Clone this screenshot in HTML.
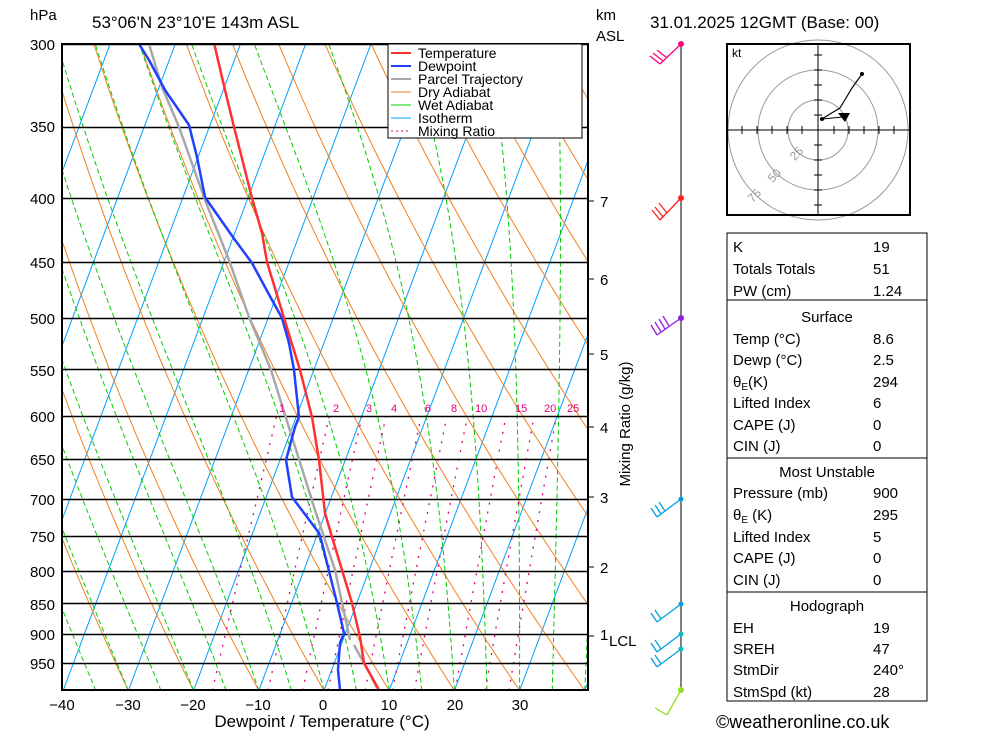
<!DOCTYPE html>
<html><head><meta charset="utf-8"><style>
body{margin:0;background:#fff;}
svg text{font-family:"Liberation Sans",sans-serif;}
</style></head><body>
<svg id="s" width="1000" height="733" viewBox="0 0 1000 733" xmlns="http://www.w3.org/2000/svg">
<defs><clipPath id="c"><rect x="62" y="44" width="526" height="646"/></clipPath></defs>
<rect width="1000" height="733" fill="#fff"/>
<g id="bg" clip-path="url(#c)"></g>
<g id="plines" stroke="#000" stroke-width="1.5"></g>
<g clip-path="url(#c)" fill="none" stroke-linejoin="round">
<polyline stroke="#a8a8a8" stroke-width="2.5" points="149,44 162,87 179,127 205,200 229,260 249,317 271,370 292,437 315,510 335,570 350,640"/>
<polyline stroke="#a8a8a8" stroke-width="2.5" points="354,645 369,672 377,688"/>
<polyline stroke="#2040ff" stroke-width="2.5" points="139,44 149,60 165,90 189,125 197,157 205,197 209,203 235,240 252,263 272,300 282,318 289,343 294,370 299,417 295,427 286,460 292,497 307,517 319,533 322,543 337,603 344,633 340,643 338,670 340,690"/>
<polyline stroke="#ff3030" stroke-width="2.5" points="214,43 225,90 234,127 252,198 262,233 267,262 284,318 300,370 312,417 319,460 325,513 332,537 342,570 352,603 360,637 364,663 379,690"/>
</g>
<rect x="62" y="44" width="526" height="646" fill="none" stroke="#000" stroke-width="2"/>
<!-- legend -->
<rect x="388" y="44" width="194" height="94" fill="#fff" stroke="#000" stroke-width="1"/>
<g stroke-width="2">
<line x1="391" y1="53" x2="411" y2="53" stroke="#ff3030"/>
<line x1="391" y1="66" x2="411" y2="66" stroke="#2040ff"/>
<line x1="391" y1="79" x2="411" y2="79" stroke="#a8a8a8"/>
<line x1="391" y1="92" x2="411" y2="92" stroke="#f08020" stroke-width="1"/>
<line x1="391" y1="105" x2="411" y2="105" stroke="#00cc00" stroke-width="1"/>
<line x1="391" y1="118" x2="411" y2="118" stroke="#00a0ff" stroke-width="1"/>
<line x1="391" y1="131" x2="411" y2="131" stroke="#e0007a" stroke-width="1" stroke-dasharray="2,3"/>
</g>
<g font-size="14" fill="#000">
<text x="418" y="58">Temperature</text><text x="418" y="71">Dewpoint</text><text x="418" y="84">Parcel Trajectory</text><text x="418" y="97">Dry Adiabat</text><text x="418" y="110">Wet Adiabat</text><text x="418" y="123">Isotherm</text><text x="418" y="136">Mixing Ratio</text>
</g>
<!-- mixing ratio labels -->
<g font-size="11" fill="#e0007a">
<text x="279" y="412">1</text><text x="333" y="412">2</text><text x="366" y="412">3</text><text x="391" y="412">4</text><text x="425" y="412">6</text><text x="451" y="412">8</text><text x="475" y="412">10</text><text x="515" y="412">15</text><text x="544" y="412">20</text><text x="567" y="412">25</text>
</g>
<!-- titles -->
<g font-size="17" fill="#000">
<text x="30" y="20" font-size="15">hPa</text>
<text x="92" y="28">53°06'N  23°10'E  143m  ASL</text>
<text x="596" y="20" font-size="15">km</text>
<text x="596" y="41" font-size="15">ASL</text>
<text x="650" y="28">31.01.2025  12GMT  (Base: 00)</text>
</g>
<g font-size="15" fill="#000" text-anchor="end">
<text x="55" y="50">300</text><text x="55" y="132">350</text><text x="55" y="204">400</text><text x="55" y="268">450</text><text x="55" y="324">500</text><text x="55" y="376">550</text><text x="55" y="422">600</text><text x="55" y="465">650</text><text x="55" y="505">700</text><text x="55" y="542">750</text><text x="55" y="577">800</text><text x="55" y="610">850</text><text x="55" y="640">900</text><text x="55" y="669">950</text>
</g>
<g font-size="15" fill="#000" text-anchor="middle">
<text x="62" y="710">−40</text><text x="128" y="710">−30</text><text x="193" y="710">−20</text><text x="258" y="710">−10</text><text x="323" y="710">0</text><text x="389" y="710">10</text><text x="455" y="710">20</text><text x="520" y="710">30</text>
<text x="322" y="727" font-size="17">Dewpoint / Temperature (°C)</text>
</g>
<g font-size="15" fill="#000">
<text x="600" y="207">7</text><text x="600" y="285">6</text><text x="600" y="360">5</text><text x="600" y="433">4</text><text x="600" y="503">3</text><text x="600" y="573">2</text><text x="600" y="640">1</text><text x="609" y="646">LCL</text>
<text x="716" y="728" font-size="18">©weatheronline.co.uk</text>
</g>
<g stroke="#000" stroke-width="1">
<line x1="588" y1="201" x2="594" y2="201"/><line x1="588" y1="279" x2="594" y2="279"/><line x1="588" y1="354" x2="594" y2="354"/><line x1="588" y1="427" x2="594" y2="427"/><line x1="588" y1="497" x2="594" y2="497"/><line x1="588" y1="567" x2="594" y2="567"/><line x1="588" y1="636" x2="594" y2="636"/>
</g>
<text x="630" y="424" font-size="15" text-anchor="middle" transform="rotate(-90 630 424)">Mixing Ratio (g/kg)</text>
<!-- wind column -->
<line x1="681" y1="44" x2="681" y2="690" stroke="#000" stroke-width="1"/>
<g fill="none" stroke-width="1.3">
<g stroke="#ff0080"><line x1="681" y1="44" x2="660" y2="64"/><line x1="660" y1="64" x2="650" y2="56"/><line x1="663" y1="61" x2="653" y2="53"/><line x1="667" y1="58" x2="657" y2="50"/></g>
<g stroke="#ff2020"><line x1="681" y1="198" x2="660" y2="220"/><line x1="660" y1="220" x2="652" y2="210"/><line x1="663" y1="217" x2="655" y2="207"/><line x1="667" y1="213" x2="659" y2="203"/></g>
<g stroke="#9020e0"><line x1="681" y1="318" x2="657" y2="335"/><line x1="657" y1="335" x2="651" y2="325"/><line x1="661" y1="332" x2="655" y2="322"/><line x1="665" y1="329" x2="659" y2="319"/><line x1="669" y1="326" x2="663" y2="316"/></g>
<g stroke="#00a0e0"><line x1="681" y1="499" x2="657" y2="517"/><line x1="657" y1="517" x2="651" y2="508"/><line x1="661" y1="514" x2="655" y2="505"/><line x1="665" y1="511" x2="659" y2="502"/>
<line x1="681" y1="604" x2="657" y2="622"/><line x1="657" y1="622" x2="651" y2="613"/><line x1="661" y1="619" x2="655" y2="610"/>
<line x1="681" y1="634" x2="657" y2="652"/><line x1="657" y1="652" x2="651" y2="643"/><line x1="661" y1="649" x2="655" y2="640"/>
<line x1="681" y1="649" x2="657" y2="667"/><line x1="657" y1="667" x2="651" y2="658"/><line x1="661" y1="664" x2="655" y2="655"/></g>
<g stroke="#90e020"><line x1="681" y1="690" x2="667" y2="715"/><line x1="667" y1="715" x2="655" y2="708"/></g>
</g>
<g>
<circle cx="681" cy="44" r="3" fill="#ff0080"/><circle cx="681" cy="198" r="3" fill="#ff2020"/><circle cx="681" cy="318" r="3" fill="#9020e0"/><circle cx="681" cy="499" r="2.5" fill="#00a0e0"/><circle cx="681" cy="604" r="2.5" fill="#00a0e0"/><circle cx="681" cy="634" r="2.5" fill="#00c0c0"/><circle cx="681" cy="649" r="2.5" fill="#00c0c0"/><circle cx="681" cy="690" r="3" fill="#90e020"/>
</g>
<!-- hodograph -->
<rect x="727" y="44" width="183" height="171" fill="#fff" stroke="#000" stroke-width="2"/>
<g fill="none" stroke="#999" stroke-width="1">
<circle cx="818" cy="130" r="30"/><circle cx="818" cy="130" r="60"/><circle cx="818" cy="130" r="90"/>
</g>
<rect x="727" y="44" width="183" height="171" fill="none" stroke="#000" stroke-width="2"/>
<g stroke="#000" stroke-width="1">
<line x1="727" y1="130" x2="910" y2="130"/><line x1="818" y1="44" x2="818" y2="215"/>
<line x1="727" y1="127" x2="727" y2="133"/><line x1="742" y1="126" x2="742" y2="134"/><line x1="757" y1="126" x2="757" y2="134"/><line x1="772" y1="126" x2="772" y2="134"/><line x1="787" y1="126" x2="787" y2="134"/><line x1="802" y1="126" x2="802" y2="134"/><line x1="834" y1="126" x2="834" y2="134"/><line x1="849" y1="126" x2="849" y2="134"/><line x1="864" y1="126" x2="864" y2="134"/><line x1="879" y1="126" x2="879" y2="134"/><line x1="894" y1="126" x2="894" y2="134"/>
<line x1="814" y1="55" x2="822" y2="55"/><line x1="814" y1="70" x2="822" y2="70"/><line x1="814" y1="85" x2="822" y2="85"/><line x1="814" y1="100" x2="822" y2="100"/><line x1="814" y1="115" x2="822" y2="115"/><line x1="814" y1="145" x2="822" y2="145"/><line x1="814" y1="160" x2="822" y2="160"/><line x1="814" y1="175" x2="822" y2="175"/><line x1="814" y1="190" x2="822" y2="190"/><line x1="814" y1="205" x2="822" y2="205"/>
</g>
<polyline fill="none" stroke="#000" stroke-width="1.2" points="822,119 830,114 840,108 846,98 852,88 862,74"/>
<line x1="822" y1="119" x2="843" y2="117" stroke="#000"/>
<polygon points="838,113 850,113 845,122" fill="#000"/>
<circle cx="822" cy="119" r="2" fill="#000"/><circle cx="862" cy="74" r="2" fill="#000"/>
<text x="732" y="57" font-size="12">kt</text>
<g font-size="12" fill="#999"><text x="790" y="158" transform="rotate(-45 796 154)">25</text><text x="768" y="180" transform="rotate(-45 774 176)">50</text><text x="748" y="200" transform="rotate(-45 754 196)">75</text></g>
<!-- table -->
<g fill="none" stroke="#000" stroke-width="1">
<rect x="727" y="233" width="200" height="67"/><rect x="727" y="300" width="200" height="158"/><rect x="727" y="458" width="200" height="134"/><rect x="727" y="592" width="200" height="109"/>
</g>
<g font-size="15" fill="#000">
<text x="733" y="252">K</text><text x="873" y="252">19</text>
<text x="733" y="274">Totals Totals</text><text x="873" y="274">51</text>
<text x="733" y="296">PW (cm)</text><text x="873" y="296">1.24</text>
<text x="827" y="322" text-anchor="middle">Surface</text>
<text x="733" y="344">Temp (°C)</text><text x="873" y="344">8.6</text>
<text x="733" y="365">Dewp (°C)</text><text x="873" y="365">2.5</text>
<text x="733" y="387">θ<tspan font-size="10" dy="3">E</tspan><tspan dy="-3">(K)</tspan></text><text x="873" y="387">294</text>
<text x="733" y="408">Lifted Index</text><text x="873" y="408">6</text>
<text x="733" y="430">CAPE (J)</text><text x="873" y="430">0</text>
<text x="733" y="451">CIN (J)</text><text x="873" y="451">0</text>
<text x="827" y="477" text-anchor="middle">Most Unstable</text>
<text x="733" y="498">Pressure (mb)</text><text x="873" y="498">900</text>
<text x="733" y="520">θ<tspan font-size="10" dy="3">E</tspan><tspan dy="-3"> (K)</tspan></text><text x="873" y="520">295</text>
<text x="733" y="542">Lifted Index</text><text x="873" y="542">5</text>
<text x="733" y="563">CAPE (J)</text><text x="873" y="563">0</text>
<text x="733" y="585">CIN (J)</text><text x="873" y="585">0</text>
<text x="827" y="611" text-anchor="middle">Hodograph</text>
<text x="733" y="633">EH</text><text x="873" y="633">19</text>
<text x="733" y="654">SREH</text><text x="873" y="654">47</text>
<text x="733" y="675">StmDir</text><text x="873" y="675">240°</text>
<text x="733" y="697">StmSpd (kt)</text><text x="873" y="697">28</text>
</g>
</svg>
<script>
(function(){
var NS="http://www.w3.org/2000/svg",bg=document.getElementById("bg"),pl=document.getElementById("plines");
function Y(p){return 690.5-537*Math.log(1000/p);}
function X(T,y){return 324+6.52*T+0.375*(690.5-y);}
function path(pts,st,w,da,g){var d="";pts.forEach(function(q,i){d+=(i?"L":"M")+q[0].toFixed(1)+","+q[1].toFixed(1);});
var e=document.createElementNS(NS,"path");e.setAttribute("d",d);e.setAttribute("fill","none");e.setAttribute("stroke",st);e.setAttribute("stroke-width",w);if(da)e.setAttribute("stroke-dasharray",da);(g||bg).appendChild(e);}
var p,T;
// isotherms
for(T=-150;T<=50;T+=10){path([[X(T,Y(1000)),Y(1000)],[X(T,Y(250)),Y(250)]],"#00a0ff",1);}
// dry adiabats
for(var th=-40;th<=200;th+=10){var pts=[];for(p=1000;p>=290;p-=10){var y=Y(p);pts.push([X((th+273.15)*Math.pow(p/1000,0.286)-273.15,y),y]);}path(pts,"#f08020",1);}
// wet adiabats
function es(t){return 6.112*Math.exp(17.67*t/(t+243.5));}
for(var tw=-45;tw<=40;tw+=5){var t=tw,pts=[];for(p=1000;p>=290;p-=2){var y=Y(p);pts.push([X(t,y),y]);var TK=t+273.15,e=es(t),rs=0.622*e/(p-e),Lv=2.5e6;
var dTdlnp=(287*TK+Lv*rs)/(1004+Lv*Lv*rs*0.622/(287*TK*TK));t-=dTdlnp*(2/p);}path(pts,"#00cc00",1,"5,3");}
// mixing ratio
[1,2,3,4,6,8,10,15,20,25].forEach(function(w){var pts=[];for(p=1000;p>=600;p-=10){var e=w*p/(622+w),l=Math.log(e/6.112),td=243.5*l/(17.67-l),y=Y(p);pts.push([X(td,y),y]);}path(pts,"#e0007a",1.3,"2,7");});
// pressure lines
[300,350,400,450,500,550,600,650,700,750,800,850,900,950].forEach(function(q){var y=Math.round(Y(q))+0.5;path([[62,y],[588,y]],"#000",1.5,null,pl);});
})();
</script>
</body></html>
